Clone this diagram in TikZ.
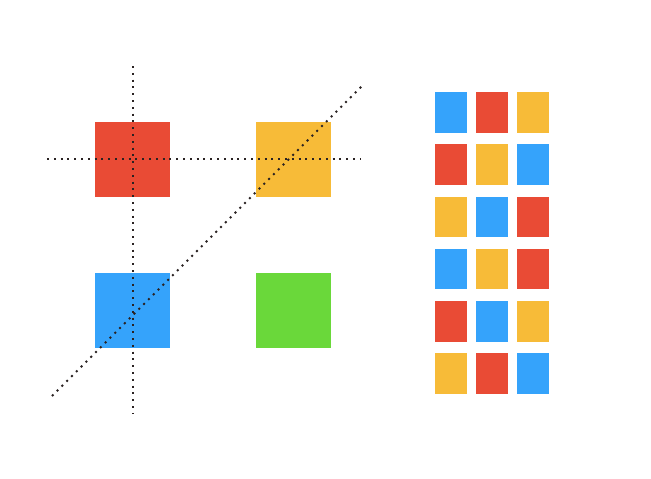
\documentclass[tikz,border=0pt]{standalone}
\definecolor{cred}{HTML}{E94B35}
\definecolor{corange}{HTML}{F7BB38}
\definecolor{cblue}{HTML}{35A3FB}
\definecolor{cgreen}{HTML}{6AD83A}
\definecolor{cdot}{HTML}{2A2222}
\tikzset{
  big/.style={minimum width=75pt,minimum height=75pt,inner sep=0pt,draw=none,anchor=north west},
  small/.style={minimum width=32pt,minimum height=40.5pt,inner sep=0pt,draw=none,anchor=north west},
  guide/.style={line width=2pt,dash pattern=on 2pt off 4.8pt,color=cdot}
}
\begin{document}
\begin{tikzpicture}[x=1pt,y=-1pt]
\useasboundingbox (0,0) rectangle (651,479);
\node[big,fill=cred] (r) at (95,122) {};
\node[big,fill=corange] (o) at (256,122) {};
\node[big,fill=cblue] (b) at (95,273) {};
\node[big,fill=cgreen] (g) at (256,273) {};
\coordinate (vt) at (133,66);
\coordinate (vb) at (133,413);
\coordinate (hl) at (47,159);
\coordinate (hr) at (361,159);
\coordinate (dl) at (52,396);
\coordinate (dr) at (363,85);
\draw[guide] (vt) -- (vb);
\draw[guide] (hl) -- (hr);
\draw[guide] (dl) -- (dr);
\foreach \row/\y/\ca/\cb/\cc in {1/92/cblue/cred/corange, 2/144.2/cred/corange/cblue, 3/196.4/corange/cblue/cred, 4/248.6/cblue/corange/cred, 5/300.8/cred/cblue/corange, 6/353/corange/cred/cblue}{
  \node[small,fill=\ca] (s\row a) at (435,\y) {};
  \node[small,fill=\cb] (s\row b) at (476,\y) {};
  \node[small,fill=\cc] (s\row c) at (517,\y) {};
}
\end{tikzpicture}
\end{document}
